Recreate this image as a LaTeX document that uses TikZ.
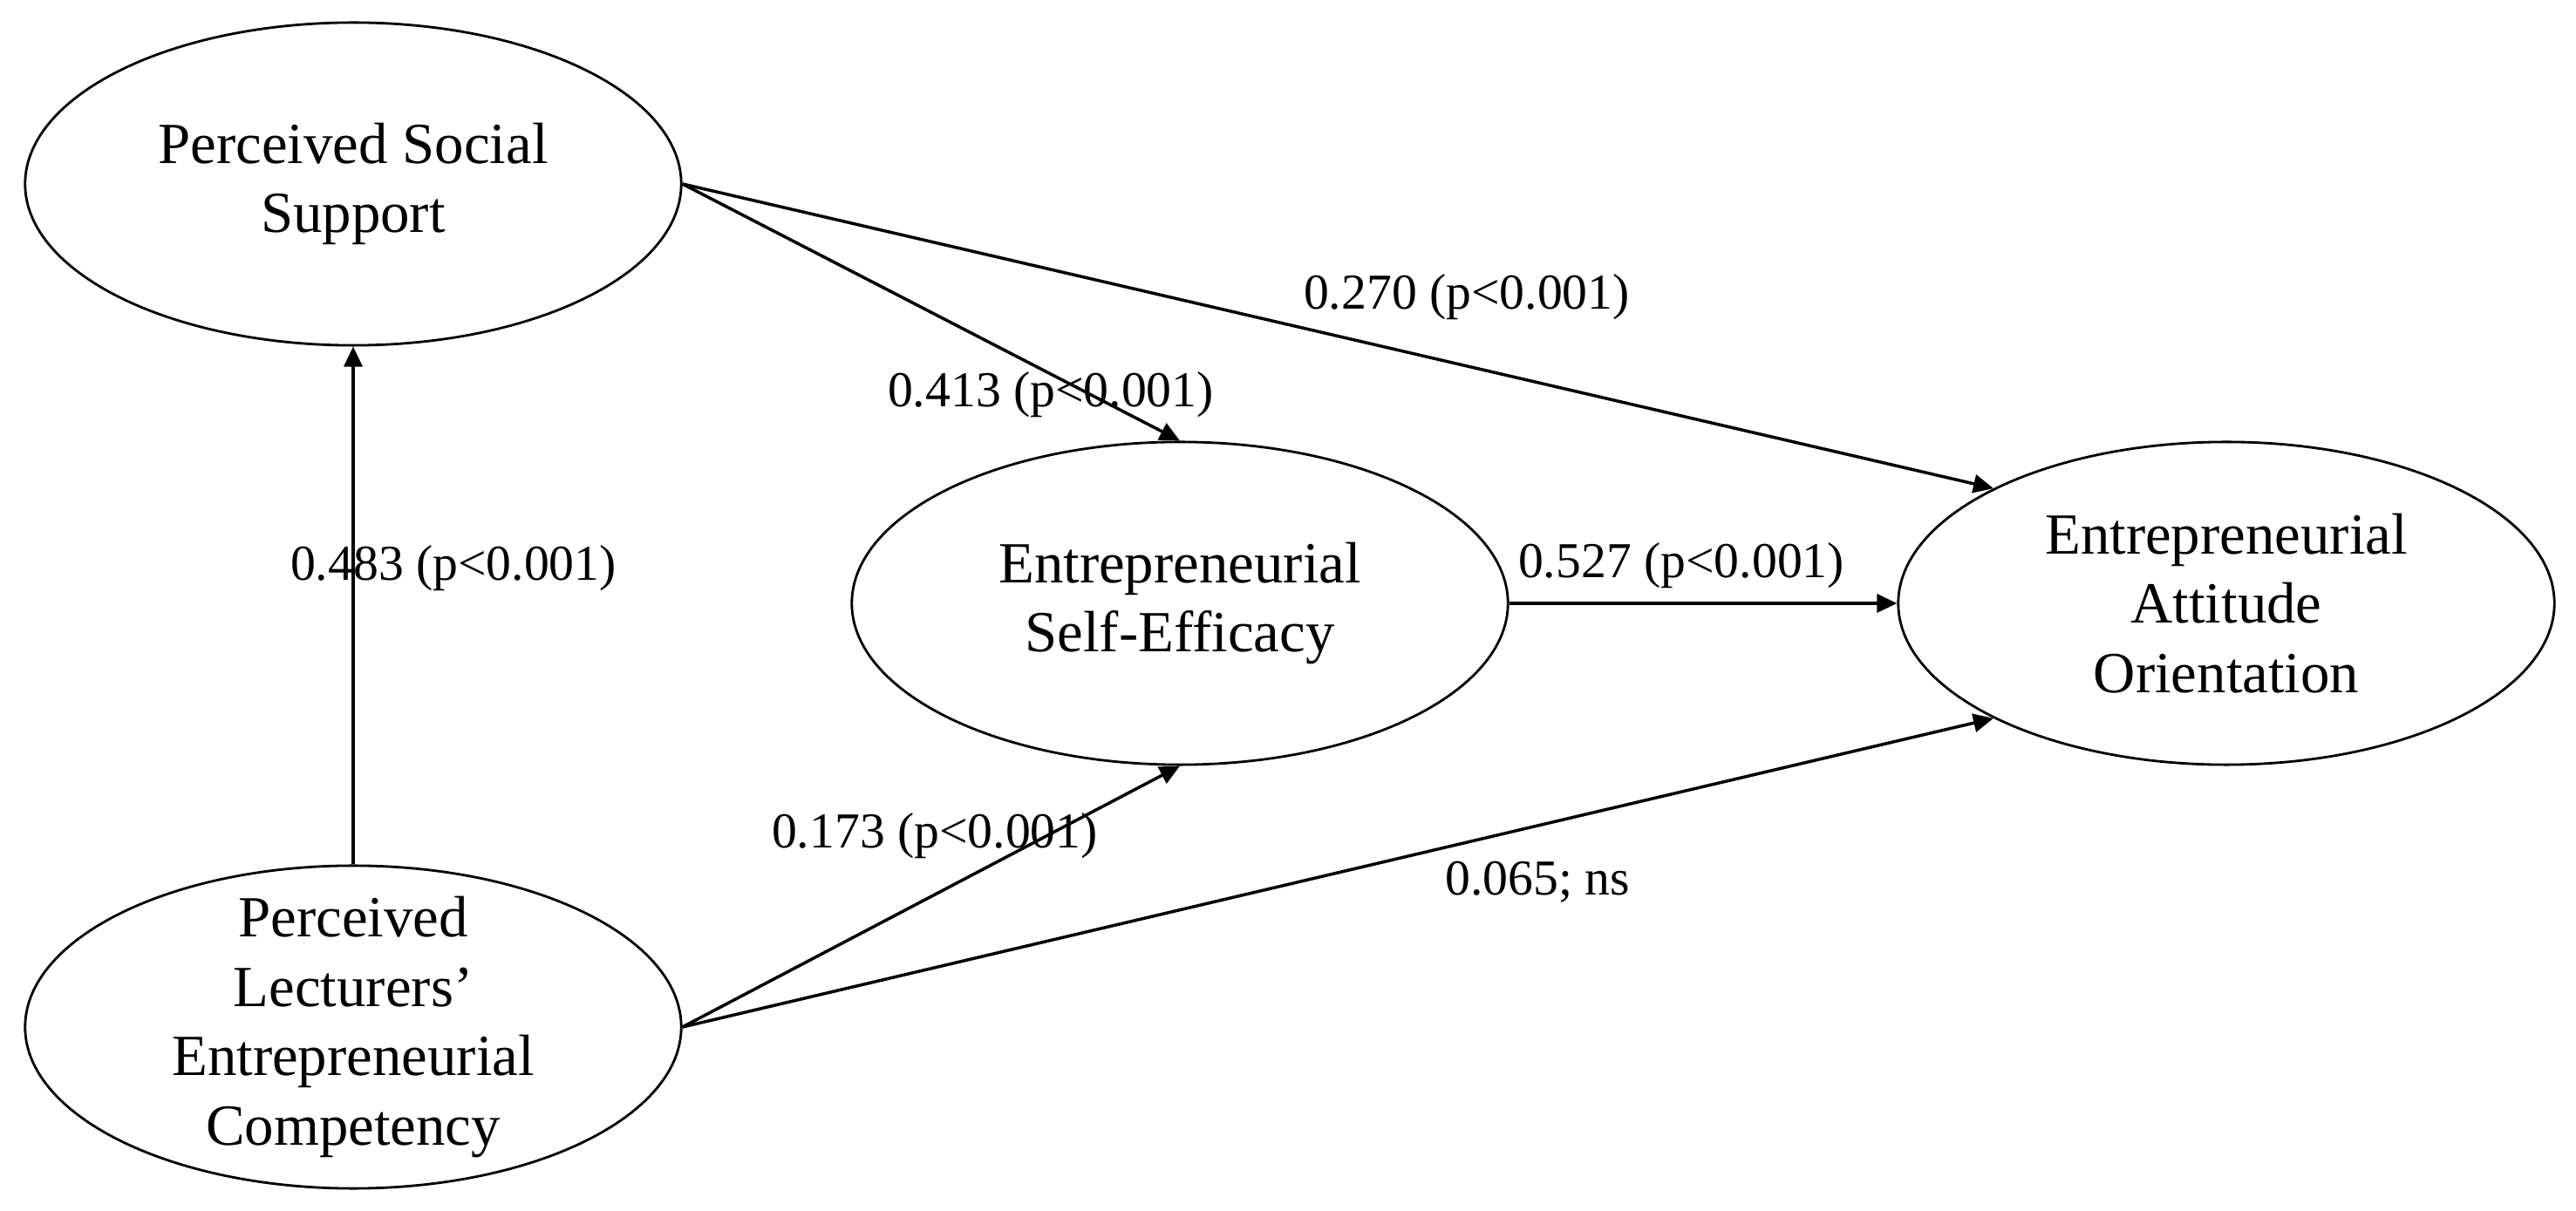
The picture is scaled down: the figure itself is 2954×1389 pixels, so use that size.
\documentclass[tikz,border=0pt]{standalone}
\usepackage{fontspec}
\setmainfont{Liberation Serif}
\usetikzlibrary{arrows.meta,shapes.geometric}
\begin{document}
\begin{tikzpicture}[x=0.01cm,y=-0.01cm,
  latent/.style={draw,ellipse,minimum width=7.52cm,minimum height=3.70cm,inner sep=0pt,line width=0.8pt},
  nodetext/.style={align=center,font=\fontsize{19}{22.6}\selectfont,inner sep=0pt},
  coef/.style={font=\fontsize{16.4}{19}\selectfont,inner sep=0pt,anchor=base},
  link/.style={line width=1pt,-{Triangle[length=0.23cm,width=0.21cm]}}]
\fill[white] (0,0) rectangle (2954,1389);
\useasboundingbox (0,0) rectangle (2954,1389);

% latent variables
\node[latent] (pss)  at (405,211)  {};
\node[latent] (plec) at (405,1178) {};
\node[latent] (ese)  at (1353,692) {};
\node[latent] (eao)  at (2553,692) {};

\node[nodetext] (psst)  at (pss)  {Perceived Social\\Support};
\node[nodetext] (plect) at (plec) {Perceived\\Lecturers’\\Entrepreneurial\\Competency};
\node[nodetext] (eset)  at (ese)  {Entrepreneurial\\Self-Efficacy};
\node[nodetext] (eaot)  at (eao)  {Entrepreneurial\\Attitude\\Orientation};

% paths
\draw[link] (plec.north) -- (pss.south);
\draw[link] (pss.east) -- (ese.north);
\draw[link] (pss.east) -- (eao.north west);
\draw[link] (plec.east) -- (ese.south);
\draw[link] (plec.east) -- (eao.south west);
\draw[link] (ese.east) -- (eao.west);

% coefficients
\node[coef] (c1) at (520,666)  {0.483 (p<0.001)};
\node[coef] (c2) at (1205,467) {0.413 (p<0.001)};
\node[coef] (c3) at (1682,355) {0.270 (p<0.001)};
\node[coef] (c4) at (1928,663) {0.527 (p<0.001)};
\node[coef] (c5) at (1072,973) {0.173 (p<0.001)};
\node[coef] (c6) at (1763,1027) {0.065; ns};
\end{tikzpicture}
\end{document}
